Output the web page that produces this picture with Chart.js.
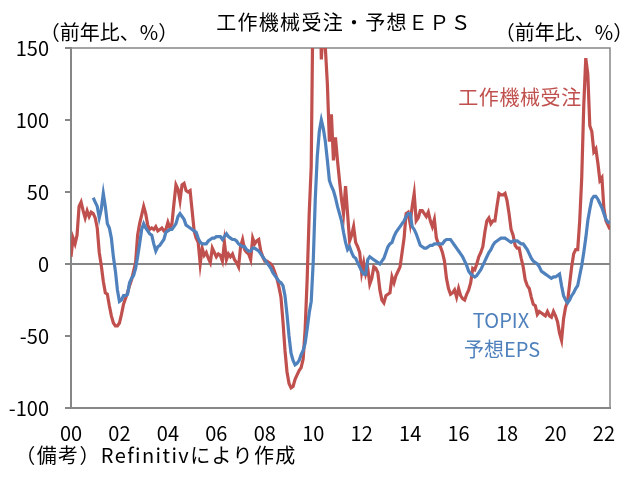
<!DOCTYPE html>
<html><head><meta charset="utf-8">
<script src="https://cdn.jsdelivr.net/npm/chart.js@4.4.1/dist/chart.umd.min.js"></script>
<style>
html,body{margin:0;padding:0;background:#fff;}
#wrap{position:relative;width:636px;height:483px;overflow:hidden;background:#fff;}
canvas{position:absolute;left:0;top:0;}
.t{position:absolute;white-space:nowrap;font-family:'Noto Sans CJK JP',sans-serif;font-size:20px;line-height:20px;color:#000;transform:translate(-50%,-50%);}
</style></head><body>
<div id="wrap">
<canvas id="c" width="636" height="483"></canvas>
<div class="t" id="title" style="left:344px;top:22px;letter-spacing:1.3px;">工作機械受注・予想ＥＰＳ</div>
<div class="t" id="unitL" style="left:109px;top:32px;">（前年比、%）</div>
<div class="t" id="unitR" style="left:564px;top:32px;">（前年比、%）</div>
<div class="t" id="lblRed" style="left:520px;top:97px;color:#C0504D;letter-spacing:0.6px;">工作機械受注</div>
<div class="t" id="lblBlue1" style="left:501px;top:320px;color:#4F81BD;">TOPIX</div>
<div class="t" id="lblBlue2" style="left:502px;top:349px;color:#4F81BD;">予想EPS</div>
<div class="t" id="note" style="left:156px;top:455px;letter-spacing:1.4px;">（備考）Refinitivにより作成</div>
</div>
<script>
// x: months since Jan 2000 (0 = 2000-01, 267 = 2022-04)
const tickMonths = [0,24,48,72,96,120,144,168,192,216,240,264];
const tickLabels = ['00','02','04','06','08','10','12','14','16','18','20','22'];
const yTicks = [150,100,50,0,-50,-100];

// 工作機械受注 (前年比, %), monthly from 2000-01
const machineOrders = [
 5,18,14,20,40,43,37,32,37,33,36,35,
 32,25,8,-1,-12,-20,-21,-29,-36,-41,-43,-43,
 -41,-35,-28,-24,-20,-15,-11,-5,1,20,28,34,
 40,35,27,24,25,24,26,23,24,25,23,24,
 29,25,28,42,55,52,44,55,56,51,50,51,
 37,23,18,15,0,11,6,8,4,1,11,8,
 5,7,6,2,15,3,7,5,7,3,1,-2,
 12,17,10,8,7,3,18,14,16,17,9,5,
 2,2,1,0,-2,-6,-10,-16,-23,-40,-60,-75,
 -83,-86,-85,-80,-77,-74,-72,-66,-45,-10,35,68,
 200,240,255,220,142,165,150,125,85,104,72,88,
 72,58,45,35,54,35,16,20,26,15,12,8,
 -6,1,-7,-3,-14,-10,-2,-3,-6,-18,-25,-27,
 -22,-21,-20,-9,-13,-8,-5,-2,8,18,35,36,
 28,40,49,30,32,37,37,35,33,36,30,26,
 31,18,14,12,8,2,-10,-17,-21,-20,-18,-23,
 -17,-22,-24,-25,-21,-18,-13,-3,-4,0,5,8,
 12,22,30,32,28,30,30,40,49,48,48,49,
 44,35,24,20,13,11,11,4,-2,-11,-15,-17,
 -23,-28,-29,-35,-33,-34,-35,-36,-33,-36,-37,-33,
 -36,-40,-48,-53,-38,-30,-26,-14,-2,7,10,10,
 30,60,110,143,132,96,92,78,80,70,58,60,
 38,30,27,24
];

// TOPIX 予想EPS (前年比, %), monthly from 2000-01 (no data before 2000-12)
const topixEps = [
 null,null,null,null,null,null,null,null,null,null,null,46,
 43,40,32,38,49,40,28,25,18,5,-5,-18,
 -26,-25,-22,-22,-21,-13,-10,-8,-3,5,14,24,
 28,25,23,21,20,14,9,12,13,15,17,22,
 23,24,24,26,28,33,35,33,31,27,26,25,
 24,23,22,18,15,14,14,14,16,17,18,18,
 19,19,19,17,19,21,19,18,17,17,16,14,
 13,12,12,10,9,9,11,11,10,9,7,5,
 3,1,-1,-3,-6,-8,-10,-12,-13,-15,-22,-35,
 -50,-62,-67,-70,-69,-67,-63,-60,-55,-45,-34,-26,
 2,45,75,92,100,94,85,72,58,54,51,46,
 40,35,30,22,15,10,12,8,5,4,1,-2,
 -5,-7,-7,3,5,4,3,2,1,0,2,4,
 8,12,14,15,19,22,24,26,28,30,33,35,
 35,26,24,21,17,13,12,11,11,12,13,13,
 14,14,14,14,14,16,17,17,17,15,13,11,
 9,7,5,2,-1,-5,-7,-8,-9,-8,-6,-4,
 -1,2,5,8,10,13,15,16,17,18,18,18,
 17,16,15,16,16,16,15,14,14,12,10,7,
 4,2,1,0,-2,-5,-6,-7,-8,-9,-10,-9,
 -9,-8,-7,-15,-22,-25,-27,-25,-22,-20,-17,-15,
 -8,-1,8,18,30,38,45,47,47,45,42,39,
 35,31,29,29
];

const RED = '#C0504D';
const BLUE = '#4F81BD';
const AXIS = '#868686';
const FONT = "'Noto Sans CJK JP',sans-serif";

const toXY = arr => arr.map((v, i) => ({x: i, y: v}));

const frame = {
  id: 'frame',
  beforeDatasetsDraw(chart) {
    const {ctx, chartArea: a} = chart;
    ctx.save();
    ctx.strokeStyle = AXIS;
    ctx.lineWidth = 1.5;
    ctx.beginPath();
    ctx.moveTo(a.left, a.top);
    ctx.lineTo(a.right, a.top);
    ctx.lineTo(a.right, a.bottom);
    ctx.stroke();
    ctx.restore();
  }
};

function draw() {
  new Chart(document.getElementById('c'), {
    type: 'line',
    data: {
      datasets: [
        {label: '工作機械受注', data: toXY(machineOrders), borderColor: RED, borderWidth: 3.2, pointRadius: 0, tension: 0, clip: 0, order: 2},
        {label: 'TOPIX予想EPS', data: toXY(topixEps), borderColor: BLUE, borderWidth: 3.2, pointRadius: 0, tension: 0, clip: 0, spanGaps: false, order: 1}
      ]
    },
    options: {
      responsive: false,
      animation: false,
      devicePixelRatio: 1,
      layout: {padding: {left: 0, right: 26, top: 48, bottom: 0}},
      plugins: {legend: {display: false}, tooltip: {enabled: false}, title: {display: false}},
      scales: {
        x: {
          type: 'linear', min: 0, max: 267,
          afterBuildTicks: s => { s.ticks = tickMonths.map(v => ({value: v})); },
          afterFit: s => { s.height = 75; },
          grid: {display: false, drawTicks: false},
          border: {display: true, color: AXIS, width: 2},
          ticks: {
            autoSkip: false, maxRotation: 0, padding: 13, color: '#000',
            font: {family: FONT, size: 20},
            callback: v => { const k = tickMonths.indexOf(v); return k >= 0 ? tickLabels[k] : ''; }
          }
        },
        y: {
          min: -100, max: 150,
          afterBuildTicks: s => { s.ticks = yTicks.map(v => ({value: v})); },
          afterFit: s => { s.width = 71; },
          grid: {
            drawOnChartArea: true, drawTicks: true, tickLength: 6,
            color: c => (c.tick && c.tick.value === 0) ? AXIS : 'rgba(0,0,0,0)',
            tickColor: AXIS, lineWidth: 2
          },
          border: {display: true, color: AXIS, width: 2},
          ticks: {
            padding: 16, color: '#000',
            font: {family: FONT, size: 20},
            callback: v => v < 0 ? '-' + Math.abs(v) : String(v)
          }
        }
      }
    },
    plugins: [frame]
  });
}
if (document.fonts && document.fonts.load) {
  document.fonts.load("20px 'Noto Sans CJK JP'").then(draw, draw);
} else { draw(); }
</script>
</body></html>
